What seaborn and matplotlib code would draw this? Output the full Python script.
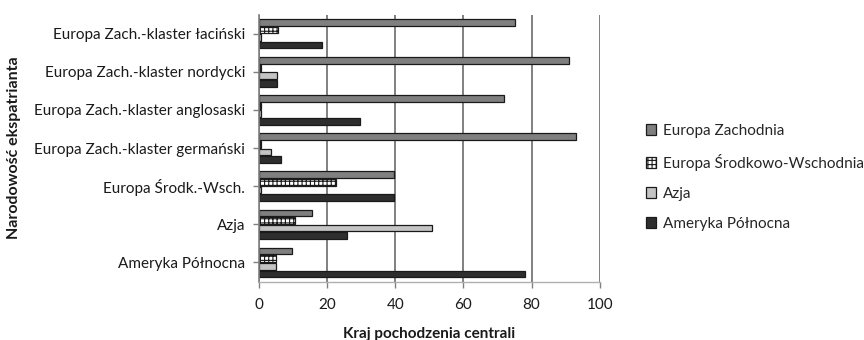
import matplotlib
matplotlib.use("Agg")
import matplotlib.pyplot as plt
import seaborn as sns
import pandas as pd

categories = [
    "Europa Zach.-klaster łaciński",
    "Europa Zach.-klaster nordycki",
    "Europa Zach.-klaster anglosaski",
    "Europa Zach.-klaster germański",
    "Europa Środk.-Wsch.",
    "Azja",
    "Ameryka Północna",
]
series = ["Europa Zachodnia", "Europa Środkowo-Wschodnia", "Azja", "Ameryka Północna"]
europa_zachodnia = [75, 91, 72, 93, 39.5, 15.5, 9.5]
europa_srodkowo_wschodnia = [5.5, 0.5, 0.5, 0.5, 22.5, 10.5, 5]
azja = [0.5, 5.3, 0.5, 3.4, 0.5, 50.8, 5]
ameryka_polnocna = [18.5, 5.3, 29.7, 6.5, 39.7, 25.8, 78]

values = [europa_zachodnia, europa_srodkowo_wschodnia, azja, ameryka_polnocna]
rows = []
for s, vals in zip(series, values):
    for c, v in zip(categories, vals):
        rows.append({"Narodowość": c, "Kraj": s, "val": v})
df = pd.DataFrame(rows)

sns.set_theme(style="white")
plt.rcParams["font.family"] = ["Lato", "DejaVu Sans"]
plt.rcParams["hatch.linewidth"] = 0.8

colors = {"Europa Zachodnia": "#7f7f7f", "Europa Środkowo-Wschodnia": "#ffffff",
          "Azja": "#c4c4c4", "Ameryka Północna": "#2e2e2e"}

fig = plt.figure(figsize=(8.64, 3.4), dpi=100)
ax = fig.add_axes([0.300, 0.172, 0.394, 0.785])

sns.barplot(data=df, y="Narodowość", x="val", hue="Kraj", hue_order=series,
            order=categories, palette=colors, orient="h", width=0.8, gap=0.12,
            edgecolor="#1a1a1a", linewidth=0.9, ax=ax, legend=True)

# hatch for Europa Środkowo-Wschodnia
for cont, s in zip(ax.containers, series):
    if s == "Europa Środkowo-Wschodnia":
        for p in cont:
            p.set_hatch("++++")

ax.set_xlim(0, 100)
ax.set_xticks([0, 20, 40, 60, 80, 100])
ax.set_ylim(len(categories) - 0.5, -0.5)
ax.xaxis.grid(True, color="#808080", linewidth=1.4)
ax.yaxis.grid(False)
ax.set_axisbelow(True)
for side in ["top", "right"]:
    ax.spines[side].set_visible(False)
ax.spines["left"].set_color("#808080")
ax.spines["left"].set_linewidth(1.2)
ax.spines["bottom"].set_color("#b0b0b0")
ax.spines["bottom"].set_linewidth(1.0)
ax.tick_params(axis="y", length=4, color="#808080", width=1, labelsize=11, pad=6, left=True)
ax.tick_params(axis="x", length=4, color="#808080", width=1, labelsize=11, pad=8, bottom=True)
for lbl in ax.get_yticklabels() + ax.get_xticklabels():
    lbl.set_color("#1a1a1a")

ax.set_xlabel("Kraj pochodzenia centrali", fontsize=11, fontweight="bold", labelpad=11, color="#1a1a1a")
ax.set_ylabel("Narodowość ekspatrianta", fontsize=11.5, fontweight="bold", color="#1a1a1a")
ax.yaxis.set_label_coords(-0.70, 0.5)

handles, labels = ax.get_legend_handles_labels()
for h, l in zip(handles, labels):
    if l == "Europa Środkowo-Wschodnia":
        h.set_hatch("++++")
leg = ax.legend(handles, labels, loc="center left", bbox_to_anchor=(1.095, 0.39), frameon=False,
                fontsize=11, handlelength=0.7, handleheight=0.7, handletextpad=0.4,
                labelspacing=1.05)

fig.savefig("out.png", dpi=100)
